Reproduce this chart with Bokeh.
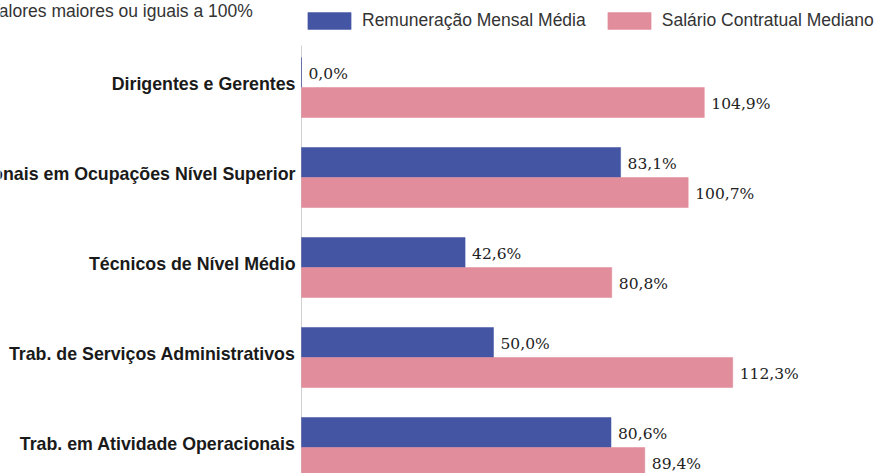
import numpy as np
from bokeh.plotting import figure
from bokeh.models import Range1d, ColumnDataSource, Label, Legend, LegendItem
from bokeh.core.properties import value
from bokeh.embed import file_html
from bokeh.resources import INLINE

# ---- data ----
categories = [
    "Dirigentes e Gerentes",
    "Profissionais em Ocupações Nível Superior",
    "Técnicos de Nível Médio",
    "Trab. de Serviços Administrativos",
    "Trab. em Atividade Operacionais",
]
remuneracao = [0.0, 83.1, 42.6, 50.0, 80.6]
salario = [104.9, 100.7, 80.8, 112.3, 89.4]
series_names = ["Remuneração Mensal Média", "Salário Contratual Mediano"]
note_text = "Valores maiores ou iguais a 100%"

BLUE = "#4455a4"
PINK = "#e18d9b"
SANS = "Liberation Sans"
SERIF = "DejaVu Serif"

W, H = 884, 473
px_per_unit = 3.84     # pixels per percentage point
axis_px = 301          # x pixel of value 0
pitch_px = 90          # pixels per category
first_center_px = 87   # y pixel of first category centre

x_start = -axis_px / px_per_unit
x_end = (W - axis_px) / px_per_unit
y_top = -first_center_px / pitch_px
y_bottom = (H - first_center_px) / pitch_px

p = figure(width=W, height=H, output_backend="svg", toolbar_location=None,
           x_range=Range1d(x_start, x_end), y_range=Range1d(y_bottom, y_top),
           min_border=0, min_border_left=0, min_border_right=0,
           min_border_top=0, min_border_bottom=0)
p.axis.visible = False
p.grid.visible = False
p.outline_line_color = None
p.background_fill_color = "white"
p.border_fill_color = "white"

idx = np.arange(len(categories))
bar_h = 1 / 3
fmt = lambda v: f"{v:.1f}".replace(".", ",") + "%"

src_b = ColumnDataSource(dict(y=idx - bar_h / 2, v=remuneracao,
                              lab=[fmt(v) for v in remuneracao]))
src_p = ColumnDataSource(dict(y=idx + bar_h / 2, v=salario,
                              lab=[fmt(v) for v in salario]))
src_c = ColumnDataSource(dict(y=idx, cat=categories, x0=[0] * len(categories)))

# axis line
p.segment(x0=0, x1=0, y0=y_top + 0.5, y1=y_bottom, line_color="#d0d0d0", line_width=1)

rb = p.hbar(y="y", left=0, right="v", height=bar_h, source=src_b,
            fill_color=BLUE, line_color=BLUE, line_width=0.5)
rp = p.hbar(y="y", left=0, right="v", height=bar_h, source=src_p,
            fill_color=PINK, line_color=PINK, line_width=0.5)

for src in (src_b, src_p):
    p.text(x="v", y="y", text="lab", source=src, x_offset=7, y_offset=1,
           text_font=value(SERIF), text_font_size="15.5px", text_color="#222222",
           text_align="left", text_baseline="middle")

p.text(x="x0", y="y", text="cat", source=src_c, x_offset=-6, y_offset=-4,
       text_font=value(SANS), text_font_size="17.8px", text_font_style="bold",
       text_color="#1a1a1a", text_align="right", text_baseline="middle")

p.add_layout(Label(x=-12, y=H - 10, x_units="screen", y_units="screen",
                   text=note_text, text_font=SANS, text_font_size="17.5px",
                   text_color="#333333", text_baseline="middle", text_align="left"))

legend = Legend(items=[LegendItem(label=series_names[0], renderers=[rb]),
                       LegendItem(label=series_names[1], renderers=[rp])],
                orientation="horizontal", location=(302, H - 31),
                glyph_width=54, glyph_height=21, label_standoff=6, spacing=16,
                padding=0, margin=0, border_line_color=None,
                background_fill_alpha=0, label_text_font=SANS,
                label_text_font_size="17.5px", label_text_color="#333333",
                label_height=21)
p.add_layout(legend)

open("out.html", "w").write(file_html(p, INLINE))
